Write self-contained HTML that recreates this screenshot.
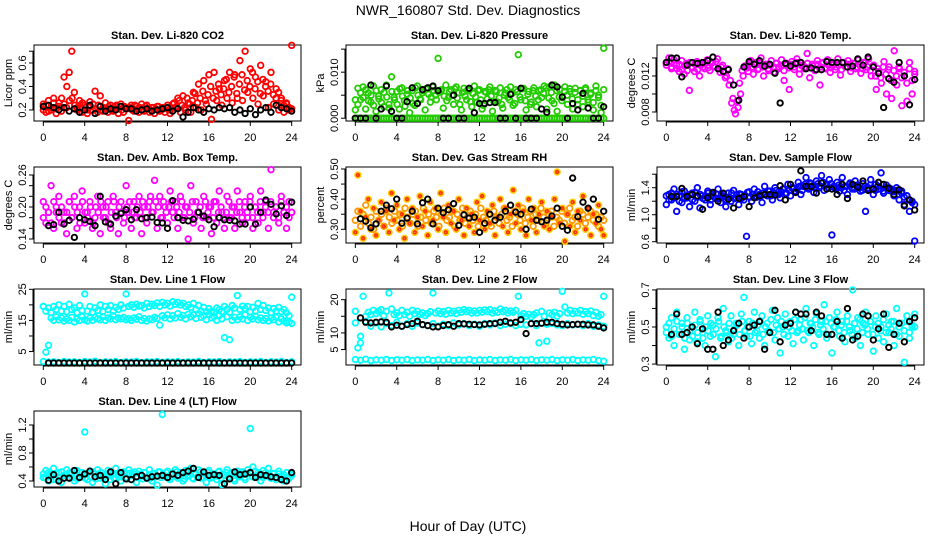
<!DOCTYPE html>
<html><head><meta charset="utf-8">
<style>
html,body{margin:0;padding:0;background:#fff;}
svg{display:block;font-family:"Liberation Sans",Arial,sans-serif;}
</style></head>
<body>
<svg id="chart" width="936" height="540" viewBox="0 0 936 540">
<text x="468" y="15" text-anchor="middle" font-size="14">NWR_160807  Std. Dev. Diagnostics</text>
<text x="468" y="531" text-anchor="middle" font-size="14">Hour of Day (UTC)</text>
</svg>
<script>
// ---------- data ----------
const xTicks = [0,4,8,12,16,20,24];

const co2Red = [0.25,0.18,0.28,0.20,0.30,0.17,0.26,0.19,0.48,0.22,0.52,0.70,0.35,0.20,0.28,0.18,0.24,0.17,0.27,0.20,0.36,0.18,0.32,0.19,0.26,0.18,0.24,0.19,0.23,0.17,0.25,0.18,0.22,0.11,0.24,0.19,0.23,0.18,0.25,0.19,0.24,0.18,0.22,0.17,0.23,0.19,0.22,0.18,0.24,0.17,0.25,0.22,0.30,0.18,0.32,0.20,0.26,0.18,0.35,0.22,0.42,0.20,0.45,0.25,0.50,0.12,0.52,0.28,0.38,0.24,0.45,0.30,0.52,0.26,0.50,0.30,0.62,0.28,0.70,0.35,0.55,0.30,0.48,0.25,0.58,0.32,0.44,0.22,0.52,0.25,0.38,0.20,0.30,0.18,0.25,0.20,0.75];
const co2RedB = [0.20,0.24,0.19,0.22,0.26,0.21,0.23,0.30,0.25,0.40,0.28,0.30,0.24,0.22,0.21,0.26,0.22,0.20,0.23,0.25,0.21,0.24,0.20,0.22,0.21,0.23,0.20,0.22,0.24,0.21,0.20,0.23,0.21,0.22,0.20,0.24,0.21,0.22,0.20,0.23,0.21,0.20,0.22,0.21,0.23,0.20,0.21,0.22,0.20,0.21,0.26,0.23,0.28,0.24,0.22,0.30,0.25,0.28,0.34,0.26,0.30,0.36,0.28,0.33,0.40,0.30,0.36,0.42,0.33,0.38,0.46,0.35,0.40,0.48,0.34,0.42,0.50,0.37,0.45,0.40,0.52,0.38,0.44,0.34,0.46,0.40,0.36,0.42,0.33,0.30,0.35,0.28,0.24,0.26,0.22,0.21];
const co2Black = [0.23,0.24,0.22,0.20,0.22,0.19,0.21,0.18,0.20,0.24,0.17,0.23,0.19,0.21,0.20,0.23,0.21,0.21,0.19,0.20,0.21,0.19,0.20,0.21,0.22,0.19,0.21,0.14,0.18,0.22,0.20,0.18,0.21,0.20,0.22,0.21,0.22,0.18,0.20,0.17,0.21,0.16,0.20,0.22,0.18,0.24,0.22,0.21,0.19];

const presGreen = [0.0018,0.0065,0.0040,0.0068,0.0020,0.0055,0.0035,0.0070,0.0015,0.0048,0.0062,0.0025,0.0072,0.0030,0.0090,0.0045,0.0058,0.0020,0.0066,0.0038,0.0052,0.0012,0.0060,0.0028,0.0070,0.0042,0.0055,0.0018,0.0064,0.0035,0.0068,0.0050,0.0130,0.0060,0.0022,0.0072,0.0045,0.0062,0.0030,0.0068,0.0055,0.0018,0.0065,0.0040,0.0060,0.0025,0.0070,0.0035,0.0062,0.0020,0.0058,0.0042,0.0068,0.0015,0.0060,0.0035,0.0066,0.0022,0.0055,0.0045,0.0068,0.0028,0.0062,0.0138,0.0040,0.0065,0.0018,0.0058,0.0035,0.0066,0.0025,0.0060,0.0045,0.0070,0.0020,0.0068,0.0038,0.0072,0.0015,0.0062,0.0045,0.0068,0.0030,0.0058,0.0020,0.0065,0.0040,0.0060,0.0025,0.0066,0.0035,0.0055,0.0018,0.0070,0.0045,0.0012,0.0152];
const presGreenB = [0.0040,0.0030,0.0055,0.0045,0.0062,0.0038,0.0050,0.0028,0.0060,0.0042,0.0034,0.0056,0.0046,0.0022,0.0058,0.0040,0.0030,0.0064,0.0048,0.0026,0.0060,0.0044,0.0032,0.0066,0.0050,0.0040,0.0060,0.0064,0.0052,0.0046,0.0060,0.0040,0.0056,0.0062,0.0048,0.0038,0.0058,0.0050,0.0064,0.0044,0.0030,0.0056,0.0048,0.0062,0.0036,0.0054,0.0046,0.0060,0.0040,0.0028,0.0056,0.0062,0.0048,0.0036,0.0058,0.0044,0.0030,0.0050,0.0062,0.0040,0.0054,0.0032,0.0058,0.0046,0.0064,0.0038,0.0052,0.0030,0.0060,0.0048,0.0040,0.0062,0.0054,0.0066,0.0044,0.0056,0.0032,0.0060,0.0046,0.0038,0.0058,0.0050,0.0064,0.0042,0.0056,0.0030,0.0060,0.0048,0.0062,0.0040,0.0052,0.0034,0.0060,0.0050,0.0028,0.0062];
const presZero = [0,0,0,0,0,0,0,0,0,0,0,0,0,0,0,0,0,0,0,0,0,0,0,0,0,0,0,0,0,0,0,0,0,0,0,0,0,0,0,0,0,0,0,0,0,0,0,0,0,0,0,0,0,0,0,0,0,0,0,0,0,0,0,0,0,0,0,0,0,0,0,0,0,0,0,0,0,0,0,0,0,0,0,0,0,0,0,0,0,0,0,0,0,0,0,0,0];
const presBlack = [0,0,0,0.0072,0,0.0020,0.0070,0.0015,0,0,0.0036,0.0066,0.0032,0.0062,0.0066,0.0070,0.0060,0,0,0.0050,0,0,0.0065,0.0012,0.0032,0.0032,0.0034,0.0034,0,0,0.0052,0,0.0065,0,0,0,0.0020,0.0013,0.0072,0.0068,0.0046,0,0.0032,0.0018,0.0054,0.0022,0,0,0.0025];

const tempMag = [0.0135,0.0140,0.0128,0.0138,0.0132,0.0125,0.0137,0.0122,0.0134,0.0104,0.0130,0.0125,0.0136,0.0120,0.0133,0.0128,0.0138,0.0126,0.0135,0.0130,0.0139,0.0124,0.0132,0.0118,0.0128,0.0115,0.0095,0.0078,0.0085,0.0100,0.0120,0.0130,0.0125,0.0137,0.0122,0.0135,0.0128,0.0140,0.0120,0.0133,0.0126,0.0137,0.0124,0.0134,0.0130,0.0138,0.0115,0.0132,0.0105,0.0136,0.0127,0.0139,0.0122,0.0131,0.0128,0.0145,0.0118,0.0133,0.0126,0.0137,0.0110,0.0134,0.0129,0.0138,0.0124,0.0132,0.0127,0.0139,0.0121,0.0135,0.0130,0.0137,0.0125,0.0134,0.0128,0.0138,0.0123,0.0135,0.0127,0.0139,0.0120,0.0132,0.0105,0.0125,0.0112,0.0136,0.0100,0.0130,0.0095,0.0148,0.0110,0.0128,0.0087,0.0120,0.0092,0.0135,0.0100,0.0125];
const tempMagB = [0.0132,0.0136,0.0130,0.0134,0.0128,0.0133,0.0127,0.0131,0.0126,0.0135,0.0129,0.0133,0.0127,0.0132,0.0130,0.0135,0.0129,0.0134,0.0131,0.0136,0.0128,0.0130,0.0124,0.0120,0.0110,0.0090,0.0082,0.0092,0.0112,0.0126,0.0131,0.0129,0.0134,0.0130,0.0132,0.0127,0.0135,0.0130,0.0133,0.0128,0.0132,0.0130,0.0134,0.0128,0.0131,0.0126,0.0134,0.0129,0.0133,0.0130,0.0135,0.0128,0.0132,0.0130,0.0134,0.0129,0.0131,0.0127,0.0133,0.0130,0.0135,0.0128,0.0132,0.0129,0.0134,0.0130,0.0132,0.0127,0.0135,0.0130,0.0133,0.0129,0.0134,0.0130,0.0132,0.0128,0.0135,0.0130,0.0126,0.0131,0.0120,0.0128,0.0118,0.0130,0.0122,0.0127,0.0115,0.0126,0.0120,0.0130,0.0118,0.0124,0.0112,0.0128,0.0115,0.0122];
const tempBlack = [0.0135,0.0140,0.0140,0.0119,0.0132,0.0135,0.0134,0.0135,0.0137,0.0141,0.0128,0.0125,0.0127,0.0110,0.0093,0.0130,0.0136,0.0133,0.0137,0.0131,0.0133,0.0123,0.0090,0.0134,0.0131,0.0134,0.0135,0.0128,0.0129,0.0127,0.0127,0.0136,0.0135,0.0135,0.0135,0.0130,0.0131,0.0139,0.0132,0.0141,0.0130,0.0123,0.0085,0.0117,0.0113,0.0135,0.0120,0.0088,0.0116];

const ambMag = [0.21,0.17,0.19,0.24,0.16,0.20,0.22,0.17,0.19,0.15,0.21,0.18,0.22,0.16,0.20,0.23,0.17,0.19,0.21,0.16,0.18,0.22,0.15,0.20,0.18,0.21,0.16,0.22,0.19,0.15,0.21,0.17,0.24,0.19,0.16,0.21,0.18,0.22,0.15,0.20,0.17,0.21,0.19,0.25,0.16,0.22,0.18,0.20,0.17,0.23,0.19,0.21,0.16,0.22,0.18,0.20,0.14,0.24,0.17,0.21,0.19,0.16,0.22,0.18,0.20,0.15,0.21,0.17,0.23,0.19,0.16,0.22,0.18,0.20,0.16,0.23,0.19,0.17,0.21,0.18,0.22,0.16,0.20,0.17,0.23,0.19,0.21,0.16,0.27,0.18,0.20,0.17,0.22,0.19,0.16,0.21,0.19];
const ambMagB = [0.18,0.20,0.19,0.17,0.21,0.19,0.18,0.20,0.17,0.19,0.21,0.18,0.20,0.19,0.17,0.21,0.19,0.18,0.20,0.17,0.20,0.19,0.21,0.18,0.20,0.17,0.19,0.21,0.18,0.20,0.19,0.18,0.20,0.21,0.19,0.18,0.20,0.19,0.21,0.18,0.20,0.22,0.19,0.21,0.20,0.18,0.21,0.19,0.20,0.21,0.18,0.20,0.19,0.21,0.18,0.20,0.19,0.21,0.18,0.19,0.20,0.18,0.21,0.19,0.20,0.18,0.21,0.19,0.20,0.18,0.19,0.21,0.18,0.20,0.19,0.21,0.18,0.20,0.19,0.21,0.18,0.20,0.19,0.21,0.18,0.20,0.19,0.21,0.19,0.20,0.18,0.21,0.19,0.20,0.18,0.19];
const ambBlack = [null,0.165,0.167,0.19,0.168,0.175,0.143,0.18,0.176,0.173,0.165,0.22,0.172,0.168,0.183,0.188,0.195,0.176,0.195,0.178,0.180,0.181,0.171,0.170,0.16,0.212,0.18,0.175,0.174,0.177,0.19,0.183,0.176,0.163,0.180,0.176,0.175,0.174,0.168,0.168,0.20,0.168,0.19,0.213,0.205,0.187,0.202,0.184,0.209];

const rhOrange = [0.29,0.48,0.36,0.27,0.34,0.40,0.30,0.37,0.28,0.33,0.39,0.31,0.36,0.29,0.42,0.33,0.38,0.30,0.35,0.27,0.40,0.32,0.37,0.29,0.34,0.41,0.31,0.36,0.28,0.39,0.33,0.37,0.30,0.42,0.34,0.29,0.38,0.32,0.36,0.30,0.40,0.33,0.28,0.37,0.31,0.35,0.29,0.39,0.33,0.41,0.30,0.36,0.32,0.38,0.28,0.34,0.40,0.31,0.37,0.29,0.35,0.43,0.32,0.38,0.30,0.36,0.28,0.40,0.33,0.37,0.29,0.35,0.39,0.31,0.36,0.30,0.34,0.40,0.49,0.32,0.37,0.26,0.35,0.31,0.39,0.29,0.36,0.33,0.41,0.30,0.37,0.28,0.35,0.32,0.38,0.30,0.28];
const rhOrangeB = [0.33,0.36,0.31,0.35,0.38,0.32,0.34,0.30,0.36,0.33,0.35,0.31,0.37,0.34,0.32,0.36,0.33,0.35,0.31,0.37,0.34,0.32,0.35,0.36,0.31,0.34,0.37,0.33,0.35,0.32,0.36,0.34,0.31,0.35,0.37,0.33,0.34,0.36,0.31,0.35,0.33,0.37,0.32,0.34,0.36,0.33,0.35,0.31,0.37,0.34,0.33,0.35,0.31,0.36,0.34,0.32,0.35,0.37,0.33,0.34,0.31,0.36,0.35,0.33,0.37,0.32,0.34,0.36,0.31,0.35,0.33,0.37,0.34,0.32,0.35,0.36,0.31,0.34,0.33,0.36,0.32,0.35,0.37,0.33,0.34,0.31,0.36,0.35,0.32,0.34,0.36,0.33,0.35,0.31,0.34,0.33];
const rhBlack = [null,0.335,0.327,0.305,0.318,0.36,0.38,0.368,0.40,0.32,0.337,0.36,0.318,0.388,0.40,0.318,0.37,0.355,0.365,0.385,0.313,0.348,0.337,0.34,0.29,0.32,0.35,0.33,0.34,0.36,0.38,0.357,0.35,0.30,0.367,0.33,0.325,0.33,0.344,0.37,0.31,0.297,0.47,0.342,0.39,0.37,0.40,0.333,0.36];

const sampBlue = [1.15,1.30,1.22,1.38,1.05,1.28,1.18,1.35,1.25,1.12,1.32,1.20,1.40,1.10,1.28,1.22,1.35,1.15,1.30,1.24,1.38,1.18,1.27,1.12,1.32,1.20,1.36,1.25,1.15,1.30,1.22,0.68,1.34,1.20,1.38,1.26,1.30,1.18,1.42,1.28,1.35,1.22,1.40,1.30,1.25,1.38,1.32,1.45,1.28,1.40,1.35,1.48,1.30,1.42,1.55,1.38,1.46,1.33,1.50,1.40,1.58,1.36,1.45,1.52,0.70,1.40,1.48,1.35,1.55,1.42,1.30,1.47,1.38,1.50,1.42,1.35,1.46,1.05,1.40,1.52,1.30,1.45,1.38,1.62,1.32,1.44,1.40,1.35,1.28,1.40,1.22,1.35,1.15,1.28,1.05,1.20,0.61];
const sampBlueB = [1.28,1.22,1.32,1.25,1.30,1.20,1.34,1.24,1.28,1.30,1.22,1.33,1.26,1.30,1.24,1.28,1.32,1.22,1.27,1.31,1.24,1.28,1.30,1.22,1.26,1.32,1.24,1.29,1.31,1.25,1.28,1.33,1.26,1.30,1.28,1.34,1.27,1.32,1.30,1.35,1.28,1.33,1.36,1.30,1.34,1.38,1.32,1.36,1.40,1.34,1.38,1.42,1.36,1.45,1.40,1.47,1.43,1.40,1.46,1.42,1.48,1.44,1.40,1.46,1.42,1.38,1.44,1.40,1.36,1.42,1.45,1.40,1.38,1.44,1.40,1.36,1.42,1.38,1.44,1.40,1.36,1.42,1.38,1.35,1.40,1.36,1.38,1.34,1.36,1.30,1.32,1.26,1.28,1.22,1.18,1.15];
const sampBlack = [null,1.27,1.27,1.39,1.27,1.30,1.28,1.08,1.25,1.33,1.20,1.32,1.23,1.10,1.24,1.27,1.12,1.25,1.28,1.30,1.30,1.29,1.43,1.22,1.45,1.33,1.65,1.42,1.42,1.32,1.47,1.38,1.38,1.30,1.45,1.24,1.45,1.41,1.50,1.36,1.38,1.48,1.45,1.39,1.30,1.37,1.13,1.22,1.07];

const l1Upper = [19.5,18.0,19.0,17.5,19.5,18.5,20.0,18.0,19.5,17.8,20.2,18.5,19.0,17.5,19.8,18.2,23.5,18.0,19.5,17.6,19.0,18.2,20.0,17.8,19.5,18.5,19.8,18.0,19.2,18.5,20.0,19.0,23.5,19.5,20.0,19.2,20.2,19.6,19.8,19.0,20.5,19.5,20.2,19.8,20.6,19.5,20.8,20.0,20.5,19.6,21.0,20.2,20.8,20.0,20.5,19.5,20.0,19.2,20.5,18.5,19.8,18.0,19.2,17.8,18.8,18.0,17.5,19.0,18.5,17.8,19.5,18.6,17.6,19.8,19.0,23.0,18.5,19.6,18.8,19.5,17.8,19.2,18.0,20.5,18.5,19.8,18.2,19.0,17.5,18.8,18.0,19.2,17.8,18.5,17.5,16.5,22.5];
const l1Lower = [19.5,4.8,7.0,15.8,15.0,16.2,15.2,15.8,14.8,15.5,15.0,16.0,14.5,15.5,15.0,16.2,15.2,14.8,15.8,15.0,16.0,15.5,15.2,16.2,15.0,15.8,15.5,16.5,15.2,15.8,15.5,16.0,15.2,15.6,15.0,15.8,15.4,16.2,15.0,15.6,14.8,15.5,15.2,16.0,15.6,13.5,16.5,15.8,16.8,15.5,16.5,15.8,17.2,16.0,16.6,15.5,17.0,16.2,16.8,15.6,17.2,16.0,16.5,15.2,16.8,15.8,16.2,15.0,16.5,15.5,9.5,16.2,8.8,15.0,16.0,15.2,16.2,15.5,16.8,15.0,16.0,15.5,16.4,15.2,15.8,15.0,15.6,14.8,15.8,15.2,16.0,14.5,15.5,14.8,14.2,14.5,14.0];
const l1Base = [1.8,1.6,1.7,1.5,1.8,1.6,1.7,1.5,1.8,1.6,1.9,1.5,1.7,1.6,1.8,1.5,1.7,1.6,1.8,1.5,1.7,1.6,1.8,1.5,1.7,1.6,1.8,1.5,1.7,1.6,1.8,1.5,1.7,1.6,1.8,1.5,1.7,1.6,1.8,1.5,1.7,1.6,1.8,1.5,1.7,1.6,1.8,1.5,1.7];
const l1Black = [null,1.3,1.3,1.3,1.3,1.3,1.3,1.3,1.3,1.3,1.3,1.3,1.3,1.3,1.3,1.3,1.3,1.3,1.3,1.3,1.3,1.3,1.3,1.3,1.3,1.3,1.3,1.3,1.3,1.3,1.3,1.3,1.3,1.3,1.3,1.3,1.3,1.3,1.3,1.3,1.3,1.3,1.3,1.3,1.3,1.3,1.3,1.3,1.3];

const l2Upper = [16.5,5.5,7.0,21.0,15.0,16.2,15.5,16.8,15.8,16.5,17.0,15.2,16.5,22.0,17.2,15.5,16.0,15.2,16.8,15.5,16.2,15.0,16.8,15.8,16.5,15.6,16.0,15.2,15.8,16.4,22.0,16.0,16.6,15.8,16.4,15.6,16.8,16.0,16.5,15.8,16.8,16.2,17.0,16.4,16.8,16.0,16.6,16.0,16.8,16.2,16.9,16.4,17.0,16.0,16.6,16.2,17.2,16.4,16.8,16.0,16.6,16.2,16.8,21.0,15.2,15.8,15.0,15.6,14.8,15.5,16.0,7.0,16.5,15.0,7.5,16.0,15.5,16.2,15.0,15.8,22.5,17.8,16.0,16.8,15.8,16.5,16.0,16.8,15.6,16.4,15.8,16.6,15.2,16.2,15.0,15.5,21.0];
const l2Mid = [13.0,9.0,13.5,12.0,13.0,11.8,12.8,12.2,13.2,12.0,12.8,12.0,13.0,12.5,12.2,12.8,12.0,12.6,12.2,13.0,12.4,12.8,12.2,12.6,12.0,12.8,12.4,13.0,12.2,12.6,12.8,12.2,12.6,12.4,12.8,12.2,13.0,12.6,12.8,12.4,12.2,12.8,12.4,12.6,12.2,12.8,12.0,12.4,12.0];
const l2Base = [2.0,1.8,2.1,1.7,1.9,1.8,2.0,1.7,1.9,1.8,2.0,1.7,1.9,1.8,2.0,1.7,1.9,1.8,2.0,1.7,1.9,1.8,2.0,1.7,1.9,1.8,2.0,1.7,1.9,1.8,2.0,1.7,1.9,1.8,2.0,1.7,1.9,1.8,2.0,1.7,1.9,1.8,2.0,1.7,1.9,1.8,2.0,1.7,1.5];
const l2Black = [null,14.5,13.2,13.0,13.2,13.3,13.2,11.8,12.3,12.0,12.5,12.8,13.5,12.5,12.2,11.8,11.8,12.2,12.5,12.0,12.8,12.7,12.6,12.5,12.4,12.6,12.8,12.8,13.2,13.5,13.0,13.2,14.0,9.8,12.8,12.8,12.9,13.2,13.2,12.8,12.6,12.4,12.5,12.6,12.6,12.4,12.4,12.0,11.5];

const l3Cyan = [0.50,0.44,0.55,0.40,0.58,0.46,0.52,0.38,0.55,0.43,0.50,0.58,0.42,0.54,0.47,0.40,0.56,0.45,0.51,0.34,0.55,0.44,0.60,0.48,0.42,0.56,0.46,0.52,0.40,0.57,0.66,0.45,0.53,0.41,0.58,0.48,0.44,0.56,0.40,0.52,0.47,0.59,0.43,0.55,0.36,0.50,0.57,0.45,0.53,0.41,0.58,0.48,0.54,0.43,0.60,0.47,0.52,0.40,0.57,0.46,0.53,0.62,0.44,0.55,0.36,0.50,0.58,0.45,0.53,0.42,0.56,0.48,0.70,0.44,0.55,0.40,0.52,0.58,0.46,0.53,0.37,0.56,0.44,0.50,0.42,0.57,0.47,0.53,0.40,0.60,0.45,0.52,0.31,0.56,0.44,0.50,0.57];
const l3CyanB = [0.47,0.52,0.45,0.49,0.53,0.46,0.50,0.44,0.52,0.48,0.45,0.51,0.47,0.53,0.44,0.50,0.48,0.52,0.46,0.49,0.53,0.45,0.50,0.47,0.52,0.44,0.49,0.51,0.46,0.53,0.48,0.50,0.45,0.52,0.47,0.51,0.53,0.46,0.50,0.48,0.54,0.47,0.51,0.49,0.53,0.46,0.52,0.50,0.48,0.54,0.47,0.51,0.49,0.55,0.48,0.52,0.50,0.54,0.47,0.51,0.49,0.53,0.46,0.52,0.50,0.54,0.48,0.51,0.47,0.53,0.50,0.46,0.52,0.49,0.54,0.47,0.51,0.49,0.53,0.46,0.50,0.52,0.48,0.54,0.47,0.51,0.49,0.53,0.46,0.50,0.52,0.48,0.53,0.47,0.51,0.50];
const l3Black = [null,0.46,0.57,0.46,0.47,0.50,0.41,0.49,0.38,0.38,0.58,0.40,0.43,0.48,0.52,0.44,0.50,0.51,0.53,0.38,0.47,0.59,0.42,0.51,0.52,0.58,0.57,0.57,0.48,0.58,0.56,0.46,0.46,0.53,0.44,0.60,0.43,0.45,0.57,0.56,0.43,0.49,0.57,0.39,0.46,0.52,0.42,0.53,0.55];

const l4Cyan = [0.45,0.55,0.40,0.50,0.58,0.42,0.52,0.38,0.48,0.56,0.44,0.50,0.40,0.55,0.46,0.52,1.10,0.42,0.54,0.38,0.50,0.56,0.44,0.48,0.36,0.55,0.42,0.50,0.58,0.46,0.40,0.53,0.45,0.56,0.42,0.50,0.38,0.54,0.47,0.52,0.44,0.56,0.40,0.50,0.34,0.53,1.35,0.46,0.54,0.42,0.50,0.56,0.44,0.52,0.40,0.55,0.47,0.58,0.43,0.50,0.56,0.44,0.52,0.38,0.55,0.46,0.50,0.42,0.54,0.35,0.48,0.56,0.44,0.52,0.40,0.54,0.46,0.50,0.42,0.56,1.15,0.60,0.46,0.52,0.40,0.55,0.47,0.58,0.44,0.50,0.42,0.54,0.46,0.40,0.52,0.44,0.50];
const l4CyanB = [0.50,0.44,0.52,0.47,0.42,0.51,0.46,0.53,0.44,0.49,0.52,0.45,0.50,0.43,0.52,0.47,0.44,0.51,0.46,0.53,0.43,0.49,0.52,0.45,0.50,0.47,0.53,0.44,0.49,0.52,0.46,0.50,0.43,0.51,0.48,0.53,0.45,0.50,0.43,0.52,0.47,0.44,0.51,0.46,0.53,0.45,0.49,0.52,0.44,0.50,0.47,0.53,0.45,0.50,0.43,0.52,0.48,0.44,0.51,0.46,0.53,0.45,0.49,0.52,0.44,0.50,0.47,0.53,0.44,0.49,0.52,0.46,0.50,0.43,0.51,0.48,0.53,0.45,0.50,0.52,0.46,0.54,0.48,0.50,0.45,0.52,0.47,0.44,0.51,0.46,0.50,0.43,0.49,0.52,0.45,0.48];
const l4Black = [null,0.41,0.49,0.40,0.44,0.44,0.55,0.45,0.50,0.54,0.46,0.48,0.42,0.53,0.36,0.52,0.43,0.42,0.46,0.48,0.44,0.46,0.47,0.48,0.45,0.50,0.48,0.52,0.54,0.58,0.45,0.53,0.48,0.49,0.48,0.36,0.43,0.53,0.49,0.50,0.52,0.45,0.49,0.48,0.46,0.45,0.42,0.40,0.52];

// ---------- panel definitions ----------
const NS = 'http://www.w3.org/2000/svg';
const svg = document.getElementById('chart');
const colLeft = [34, 346, 657];
const rowTop = [45, 167, 289, 411];
const W = 267, H = 76, XMIN = -0.9, XMAX = 24.9;

const panels = [
 {name:'co2', c:0,r:0,title:'Stan. Dev. Li-820 CO2',ylab:'Licor ppm',ymin:0.106,ymax:0.753,ticks:[0.2,0.3,0.4,0.5,0.6,0.7],labels:['0.2','','0.4','','0.6',''],series:[[co2Red,'#ff0000'],[co2RedB,'#ff0000']],black:co2Black},
 {name:'pressure', c:1,r:0,title:'Stan. Dev. Li-820 Pressure',ylab:'kPa',ymin:-0.0006,ymax:0.0159,ticks:[0,0.005,0.010,0.015],labels:['0.000','','0.010',''],series:[[presZero,'#22cc00'],[presGreen,'#22cc00'],[presGreenB,'#22cc00']],black:presBlack},
 {name:'temp', c:2,r:0,title:'Stan. Dev. Li-820 Temp.',ylab:'degrees C',ymin:0.0070,ymax:0.01544,ticks:[0.008,0.010,0.012,0.014],labels:['0.008','','0.012',''],series:[[tempMag,'#ff00ff'],[tempMagB,'#ff00ff']],black:tempBlack},
 {name:'amb-box-temp', c:0,r:1,title:'Stan. Dev. Amb. Box Temp.',ylab:'degrees C',ymin:0.1325,ymax:0.275,ticks:[0.14,0.16,0.18,0.20,0.22,0.24,0.26],labels:['0.14','','','0.20','','','0.26'],series:[[ambMag,'#ff00ff'],[ambMagB,'#ff00ff']],black:ambBlack},
 {name:'gas-stream-rh', c:1,r:1,title:'Stan. Dev. Gas Stream RH',ylab:'percent',ymin:0.2546,ymax:0.5066,ticks:[0.30,0.35,0.40,0.45,0.50],labels:['0.30','','0.40','','0.50'],series:[[rhOrange,'#ffcc00'],[rhOrangeB,'#ff9900'],[rhOrange,'#ff3300',1.3]],black:rhBlack},
 {name:'sample-flow', c:2,r:1,title:'Stan. Dev. Sample Flow',ylab:'ml/min',ymin:0.581,ymax:1.707,ticks:[0.6,0.8,1.0,1.2,1.4,1.6],labels:['0.6','','1.0','','1.4',''],series:[[sampBlue,'#0000ff'],[sampBlueB,'#0000ff']],black:sampBlack},
 {name:'line1-flow', c:0,r:2,title:'Stan. Dev. Line 1 Flow',ylab:'ml/min',ymin:0.67,ymax:25.1,ticks:[5,10,15,20,25],labels:['5','','15','','25'],series:[[l1Upper,'#00ffff'],[l1Lower,'#00ffff'],[l1Base,'#00ffff']],black:l1Black},
 {name:'line2-flow', c:1,r:2,title:'Stan. Dev. Line 2 Flow',ylab:'ml/min',ymin:0.35,ymax:23.2,ticks:[5,10,15,20],labels:['5','10','','20'],series:[[l2Upper,'#00ffff'],[l2Mid,'#00ffff'],[l2Base,'#00ffff']],black:l2Black},
 {name:'line3-flow', c:2,r:2,title:'Stan. Dev. Line 3 Flow',ylab:'ml/min',ymin:0.295,ymax:0.705,ticks:[0.3,0.4,0.5,0.6,0.7],labels:['0.3','','0.5','','0.7'],series:[[l3Cyan,'#00ffff'],[l3CyanB,'#00ffff']],black:l3Black},
 {name:'line4-flow', c:0,r:3,title:'Stan. Dev. Line 4 (LT) Flow',ylab:'ml/min',ymin:0.314,ymax:1.40,ticks:[0.4,0.6,0.8,1.0,1.2],labels:['0.4','','0.8','','1.2'],series:[[l4Cyan,'#00ffff'],[l4CyanB,'#00ffff']],black:l4Black}
];

function mk(tag, attrs, parent){
  const e = document.createElementNS(NS, tag);
  for (const k in attrs) e.setAttribute(k, attrs[k]);
  (parent||svg).appendChild(e);
  return e;
}

panels.forEach(p => {
  const L = colLeft[p.c], T = rowTop[p.r];
  const xs = h => L + (h - XMIN) / (XMAX - XMIN) * W;
  const ys = v => T + H - (v - p.ymin) / (p.ymax - p.ymin) * H;
  const g = mk('g', {});
  
  

  const t = mk('text', {x: L + W/2, y: T - 6, 'text-anchor':'middle', 'font-size':11, 'font-weight':'bold'}, g);
  t.textContent = p.title;
  
  

  const xa = mk('g', {}, g);
  
  
  mk('line', {x1: xs(0), x2: xs(24), y1: T+H+1, y2: T+H+1, stroke:'#000'}, xa);
  xTicks.forEach(v => {
    mk('line', {x1: xs(v), x2: xs(v), y1: T+H, y2: T+H+5, stroke:'#000'}, xa);
    const tl = mk('text', {x: xs(v), y: T+H+20, 'text-anchor':'middle', 'font-size':11}, xa);
    tl.textContent = v;
    
    
  });

  const ya = mk('g', {}, g);
  
  
  mk('line', {x1: L-1, x2: L-1, y1: ys(p.ticks[0]), y2: ys(p.ticks[p.ticks.length-1]), stroke:'#000'}, ya);
  p.ticks.forEach((v, i) => {
    const y = ys(v);
    mk('line', {x1: L-5, x2: L, y1: y, y2: y, stroke:'#000'}, ya);
    if (p.labels[i]) {
      const tl = mk('text', {x: L-8, y: y, 'text-anchor':'middle', 'font-size':11, transform:'rotate(-90 ' + (L-8) + ' ' + y + ')'}, ya);
      tl.textContent = p.labels[i];
      
      
    }
  });
  const yl = mk('text', {x: L-22, y: T+H/2, 'text-anchor':'middle', 'font-size':11, transform:'rotate(-90 ' + (L-22) + ' ' + (T+H/2) + ')'}, g);
  yl.textContent = p.ylab;
  
  

  const bx = mk('rect', {x: L, y: T, width: W, height: H, fill:'none', stroke:'#000'}, g);
  
  

  p.series.forEach(s => {
    const arr = s[0], col = s[1], rad = s[2] || 2.8;
    const sg = mk('g', {}, g);
    
    
    arr.forEach((v, i) => {
      if (v === null) return;
      const h = i * 24 / (arr.length - 1);
      const c = mk('circle', {cx: xs(h), cy: ys(v), r: rad, fill:'none', stroke: col, 'stroke-width': 1.8}, sg);
      
      
    });
  });
  const bg = mk('g', {}, g);
  
  
  p.black.forEach((v, i) => {
    if (v === null) return;
    const h = i * 24 / (p.black.length - 1);
    const c = mk('circle', {cx: xs(h), cy: ys(v), r: 2.7, fill:'none', stroke:'#000', 'stroke-width': 1.9}, bg);
    
    
  });
});
</script>
</body></html>
